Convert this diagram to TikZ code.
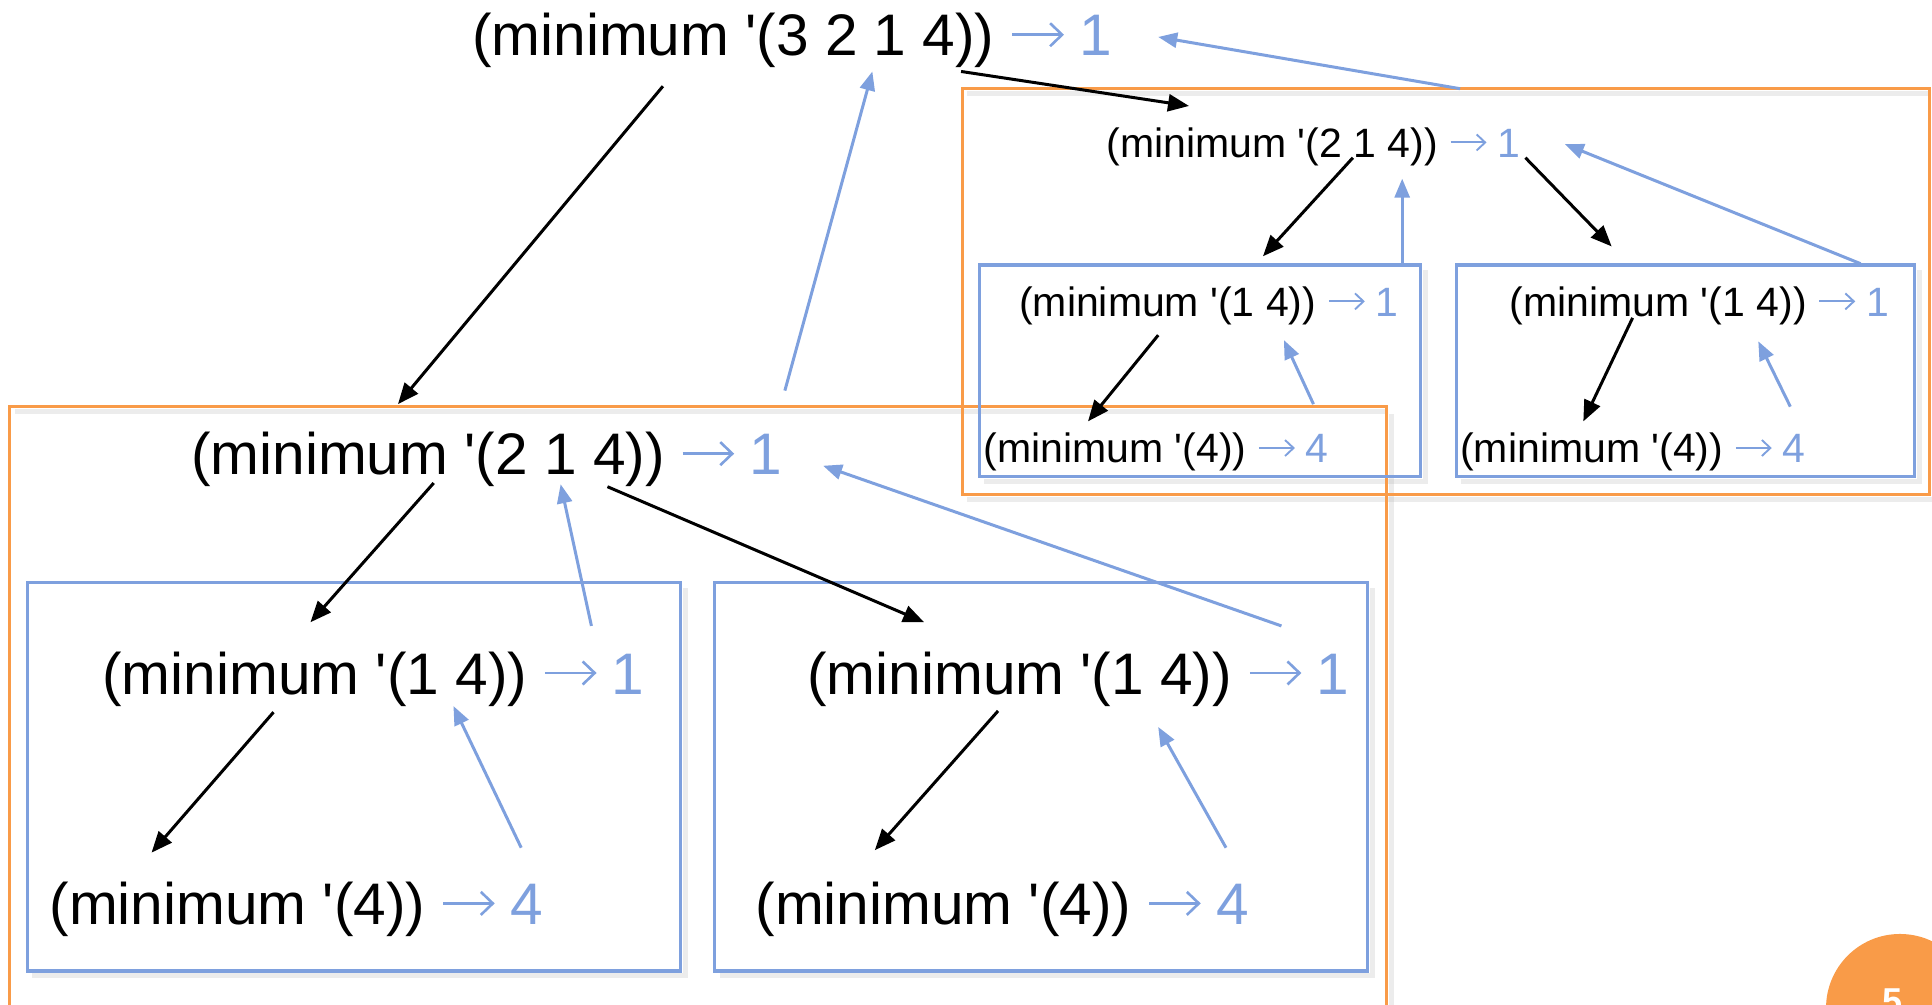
\documentclass[tikz,border=0pt]{standalone}
\usepackage{fontspec}
\setmainfont{Liberation Sans}
\usetikzlibrary{arrows.meta}
\definecolor{vblue}{RGB}{126,160,222}
\definecolor{vorange}{RGB}{249,155,72}
\newcommand{\qt}{\textquotesingle}
% name, position, text, value
\newcommand{\biglabel}[4]{%
  \node[lbig] (#1) at (#2) {#3};
  \node[valbig] (#1v) at ([xshift=84.4pt]#1.base east) {#4};
  \draw[varbig] ([xshift=17.6pt,yshift=21.1pt]#1.base east) -- ([xshift=-15.2pt,yshift=21.1pt]#1v.base west);}
\newcommand{\smalllabel}[4]{%
  \node[lsmall] (#1) at (#2) {#3};
  \node[valsmall] (#1v) at ([xshift=59pt]#1.base east) {#4};
  \draw[varsmall] ([xshift=12.3pt,yshift=14.8pt]#1.base east) -- ([xshift=-10.7pt,yshift=14.8pt]#1v.base west);}
\begin{document}
\begin{tikzpicture}[x=1.232pt,y=-1.232pt,
  lbig/.style={anchor=west,inner sep=0pt,font=\fontsize{58.6}{60}\selectfont},
  lsmall/.style={anchor=west,inner sep=0pt,font=\fontsize{41}{43}\selectfont},
  valbig/.style={anchor=base west,inner sep=0pt,text=vblue,font=\fontsize{58.6}{60}\selectfont},
  valsmall/.style={anchor=base west,inner sep=0pt,text=vblue,font=\fontsize{41}{43}\selectfont},
  varbig/.style={draw=vblue,line width=2.6pt,-{Straight Barb[length=12pt,width=23pt]}},
  varsmall/.style={draw=vblue,line width=1.9pt,-{Straight Barb[length=8.5pt,width=16pt]}},
  calldown/.style={draw=black,line width=3pt,-{Triangle[length=21pt,width=17pt]}},
  retup/.style={draw=vblue,line width=3pt,-{Triangle[length=19pt,width=15pt]}},
  obox/.style={draw=vorange,line width=3pt},
  bbox/.style={draw=vblue,line width=3.2pt},
  shade/.style={draw=black!30,opacity=0.25,line width=5pt}]
\useasboundingbox (0,0) rectangle (1568,815);
\clip (0,0) rectangle (1568,815);

% shadows
\draw[shade] (785,405) -- (1569,405);
\draw[shade] (1129,336) -- (1129,820);
\draw[shade] (799,391) -- (1157,391) -- (1157,219);
\draw[shade] (1186,391) -- (1558,391) -- (1558,219);
\draw[shade] (26,792) -- (556,792) -- (556,477);
\draw[shade] (584,792) -- (1114,792) -- (1114,477);
\draw[shade] (785,76) -- (1566,76);
\draw[shade] (12,334) -- (1125,334);

% boxes
\draw[obox] (781,72) rectangle (1566,401);
\draw[obox] (8,330) rectangle (1125,830);
\draw[bbox] (795,215) rectangle (1153,387);
\draw[bbox] (1182,215) rectangle (1554,387);
\draw[bbox] (22,473) rectangle (552,788);
\draw[bbox] (580,473) rectangle (1110,788);

% labels
\biglabel{n0}{383,33}{(minimum \qt(3 2 1 4))}{1}
\smalllabel{a}{898,119}{(minimum \qt(2 1 4))}{1}
\smalllabel{aa}{827,248}{(minimum \qt(1 4))}{1}
\smalllabel{aab}{798,367}{(minimum \qt(4))}{4}
\smalllabel{ab}{1225,248}{(minimum \qt(1 4))}{1}
\smalllabel{abb}{1185,367}{(minimum \qt(4))}{4}
\biglabel{b}{155,373}{(minimum \qt(2 1 4))}{1}
\biglabel{ba}{83,551}{(minimum \qt(1 4))}{1}
\biglabel{bab}{40,738}{(minimum \qt(4))}{4}
\biglabel{bb}{655,551}{(minimum \qt(1 4))}{1}
\biglabel{bbb}{613,738}{(minimum \qt(4))}{4}

% connector end points
\coordinate (p1s) at (538,70);  \coordinate (p1e) at (323,328);
\coordinate (p2s) at (637,317); \coordinate (p2e) at (708,58);
\coordinate (p3s) at (780,58);  \coordinate (p3e) at (965,86);
\coordinate (p4s) at (1185,72); \coordinate (p4e) at (940,30);
\coordinate (q1s) at (1098,128); \coordinate (q1e) at (1025,208);
\coordinate (q2s) at (1138,215); \coordinate (q2e) at (1138,145);
\coordinate (q3s) at (1238,128); \coordinate (q3e) at (1308,200);
\coordinate (q4s) at (1510,214); \coordinate (q4e) at (1270,117);
\coordinate (q5s) at (940,272);  \coordinate (q5e) at (883,342);
\coordinate (q6s) at (1066,328); \coordinate (q6e) at (1042,276);
\coordinate (q7s) at (1325,258); \coordinate (q7e) at (1285,342);
\coordinate (q8s) at (1453,330); \coordinate (q8e) at (1427,277);
\coordinate (r1s) at (352,392);  \coordinate (r1e) at (252,505);
\coordinate (r2s) at (480,508);  \coordinate (r2e) at (455,393);
\coordinate (r3s) at (493,395);  \coordinate (r3e) at (750,505);
\coordinate (r4s) at (1040,508); \coordinate (r4e) at (668,378);
\coordinate (r5s) at (222,578);  \coordinate (r5e) at (123,692);
\coordinate (r6s) at (423,688);  \coordinate (r6e) at (368,573);
\coordinate (r7s) at (810,577);  \coordinate (r7e) at (710,690);
\coordinate (r8s) at (995,688);  \coordinate (r8e) at (940,590);

% connectors
\draw[calldown] (p1s) -- (p1e);
\draw[retup] (p2s) -- (p2e);
\draw[calldown] (p3s) -- (p3e);
\draw[retup] (p4s) -- (p4e);
\draw[calldown] (q1s) -- (q1e);
\draw[retup] (q2s) -- (q2e);
\draw[calldown] (q3s) -- (q3e);
\draw[retup] (q4s) -- (q4e);
\draw[calldown] (q5s) -- (q5e);
\draw[retup] (q6s) -- (q6e);
\draw[calldown] (q7s) -- (q7e);
\draw[retup] (q8s) -- (q8e);
\draw[calldown] (r1s) -- (r1e);
\draw[retup] (r2s) -- (r2e);
\draw[calldown] (r3s) -- (r3e);
\draw[retup] (r4s) -- (r4e);
\draw[calldown] (r5s) -- (r5e);
\draw[retup] (r6s) -- (r6e);
\draw[calldown] (r7s) -- (r7e);
\draw[retup] (r8s) -- (r8e);

% page number badge
\node[circle,fill=vorange,minimum size=120*1.232pt,inner sep=0pt] (pg) at (1542,818) {};
\node[text=white,inner sep=0pt,font=\fontsize{36}{38}\bfseries\selectfont] (pgn) at (1536,813) {5};
\end{tikzpicture}
\end{document}
